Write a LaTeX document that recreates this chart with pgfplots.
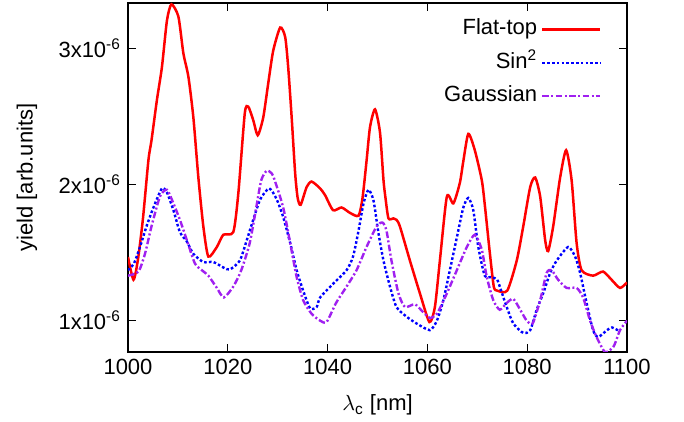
\documentclass[border=0pt]{standalone}
\usepackage{pgfplots}
\pgfplotsset{compat=1.18}
\usepackage{fontspec}
\setmainfont{Liberation Sans}
\definecolor{gpred}{RGB}{255,0,0}
\definecolor{gpblue}{RGB}{0,0,255}
\definecolor{gppurple}{RGB}{160,32,240}
\newcommand{\ff}{\fontsize{11}{13}\selectfont}
\begin{document}
\begin{tikzpicture}
\path[use as bounding box] (0,0) rectangle (342pt,211pt);
\begin{axis}[
  at={(64pt,35pt)}, anchor=south west,
  width=249.5pt, height=174.5pt, scale only axis,
  xmin=1000, xmax=1100, ymin=0.77, ymax=3.33,
  xtick={1000,1020,1040,1060,1080,1100},
  ytick={1,2,3},
  yticklabels={1x10\textsuperscript{-6},2x10\textsuperscript{-6},3x10\textsuperscript{-6}},
  /pgf/number format/assume math mode=true,
  /pgf/number format/1000 sep={},
  tick align=inside,
  every tick label/.append style={font=\ff},
  tick style={black, thin},
  major tick length=4pt,
  axis line style={black, line width=0.6pt},
  xlabel={$\lambda$\textsubscript{c} [nm]},
  ylabel={yield [arb.units]},
  every axis y label/.style={at={(axis description cs:-0.2024,0.5)}, rotate=90, anchor=center, font=\ff},
  every axis x label/.style={at={(axis description cs:0.5,-0.152)}, anchor=center, font=\ff},
  legend plot pos=right,
  legend cell align=right,
  legend style={draw=none, fill=none, at={(axis description cs:0.962,0.985)}, anchor=north east,
    font=\ff, row sep=0pt,
    nodes={font=\ff, text height=8pt, text depth=2.5pt, inner ysep=3.1pt}},
  legend image code/.code={\draw[#1] (2.5pt,0cm) -- (31.5pt,0cm);},
]
\addplot[gpred, line width=1.25pt, smooth, tension=0.4] coordinates {
(1000,1.467)(1001.1,1.30)(1002.0,1.45)(1003.0,1.75)(1004.1,2.18)(1004.7,2.32)(1005.8,2.62)(1006.8,2.86)(1007.8,3.20)(1008.7,3.32)
(1010.1,3.23)(1011.1,2.96)(1012.1,2.79)(1013.1,2.49)(1014.1,2.05)(1015.1,1.69)(1016.1,1.47)(1017.8,1.54)(1019.1,1.63)(1021.1,1.65)
(1022.1,1.93)(1023.4,2.52)(1024.1,2.57)(1025.1,2.47)(1026.0,2.36)(1027.1,2.49)(1028.1,2.74)(1029.1,2.98)(1030.5,3.15)(1031.5,3.08)
(1032.1,2.86)(1032.8,2.49)(1033.5,2.08)(1034.0,1.90)(1034.6,1.85)(1035.8,1.98)(1036.8,2.02)(1038.5,1.97)(1039.5,1.92)(1041.1,1.81)
(1042.8,1.83)(1044.5,1.79)(1046.2,1.77)(1047.0,1.90)(1047.8,2.17)(1048.5,2.42)(1049.5,2.55)(1050.5,2.38)(1051.2,2.03)(1051.6,1.90)
(1052.2,1.75)(1053.2,1.75)(1053.8,1.74)(1054.5,1.69)(1056.5,1.44)(1058.5,1.20)(1060.4,0.99)(1061.5,1.10)(1062.5,1.44)(1063.9,1.91)
(1065.2,1.86)(1066.5,2.01)(1067.2,2.17)(1068.2,2.37)(1069.5,2.25)(1070.9,2.03)(1071.5,1.85)(1072.5,1.50)(1073.3,1.25)(1074.0,1.22)
(1076.0,1.22)(1077.9,1.44)(1079.2,1.69)(1080.6,1.98)(1081.6,2.05)(1082.6,1.91)(1083.6,1.59)(1084.2,1.51)(1085.2,1.69)(1086.6,2.05)
(1087.8,2.25)(1088.9,2.03)(1089.9,1.57)(1090.9,1.37)(1093.2,1.33)(1095.2,1.36)(1096.9,1.30)(1098.6,1.24)(1100,1.28)
};
\addlegendentry{\ff Flat-top}
\addplot[gpblue, line width=1.2pt, smooth, tension=0.4, dash pattern=on 1.3pt off 1.1pt] coordinates {
(1000,1.37)(1001.2,1.42)(1002.4,1.54)(1003.7,1.69)(1005.1,1.83)(1006.8,1.97)(1007.8,1.94)(1009.1,1.81)(1010.4,1.65)(1011.8,1.58)
(1013.1,1.49)(1015.1,1.43)(1017.1,1.43)(1019.1,1.39)(1020.4,1.375)(1022.4,1.44)(1023.8,1.59)(1025.1,1.74)(1026.5,1.89)(1028.3,1.97)
(1029.8,1.89)(1031.1,1.76)(1032.5,1.57)(1033.8,1.37)(1035.1,1.22)(1036.5,1.09)(1037.8,1.10)(1038.5,1.17)(1041.1,1.27)(1043.8,1.37)
(1045.1,1.47)(1046.2,1.66)(1047.2,1.86)(1048.2,1.96)(1049.2,1.88)(1050.2,1.64)(1051.2,1.44)(1052.5,1.25)(1053.8,1.10)(1055.8,1.03)
(1057.8,0.98)(1060.5,0.93)(1061.9,1.00)(1063.2,1.15)(1064.5,1.37)(1065.9,1.61)(1067.2,1.83)(1068.2,1.90)(1069.2,1.81)(1070.2,1.54)
(1071.5,1.33)(1072.9,1.32)(1074.0,1.30)(1074.5,1.25)(1075.9,1.10)(1077.2,0.98)(1079.2,0.91)(1080.6,0.93)(1081.9,1.08)(1083.2,1.20)
(1084.6,1.35)(1085.9,1.44)(1088.2,1.54)(1089.6,1.47)(1090.6,1.35)(1091.9,1.13)(1093.2,0.93)(1094.2,0.88)(1096.0,0.93)(1097.0,0.95)
(1098.6,0.92)
};
\addlegendentry{\ff Sin\textsuperscript{2}}
\addplot[gppurple, line width=1.2pt, smooth, tension=0.4, dash pattern=on 3.3pt off 1.2pt on 1pt off 1.2pt] coordinates {
(1000,1.33)(1002.1,1.36)(1003.4,1.49)(1004.7,1.69)(1006.4,1.91)(1007.8,1.96)(1009.1,1.86)(1010.4,1.74)(1011.8,1.59)(1013.4,1.42)
(1014.8,1.37)(1016.1,1.33)(1017.8,1.24)(1019.2,1.17)(1021.1,1.25)(1022.7,1.37)(1024.4,1.57)(1025.7,1.83)(1026.7,2.03)(1027.8,2.10)
(1028.8,2.08)(1029.4,2.03)(1031.1,1.83)(1032.5,1.57)(1033.8,1.32)(1035.1,1.15)(1036.8,1.05)(1038.5,1.00)(1039.8,0.99)(1041.7,1.13)
(1043.8,1.25)(1045.8,1.37)(1047.8,1.54)(1049.8,1.69)(1051.0,1.72)(1051.8,1.66)(1052.8,1.44)(1054.2,1.20)(1055.5,1.10)(1057.5,1.12)
(1059.2,1.06)(1060.5,1.02)(1061.9,1.05)(1063.9,1.20)(1065.9,1.37)(1067.9,1.54)(1069.5,1.63)(1070.9,1.52)(1071.9,1.32)(1073.2,1.15)
(1074.5,1.08)(1075.9,1.13)(1077.2,1.16)(1078.6,1.08)(1079.9,1.00)(1081.1,0.98)(1082.6,1.15)(1083.9,1.35)(1084.9,1.37)(1086.2,1.30)
(1087.9,1.24)(1089.9,1.24)(1091.2,1.17)(1092.6,1.00)(1093.9,0.88)(1095.6,0.77)(1097.3,0.81)(1098.6,0.93)(1100,1.00)
};
\addlegendentry{\ff Gaussian}
\end{axis}
\end{tikzpicture}
\end{document}
